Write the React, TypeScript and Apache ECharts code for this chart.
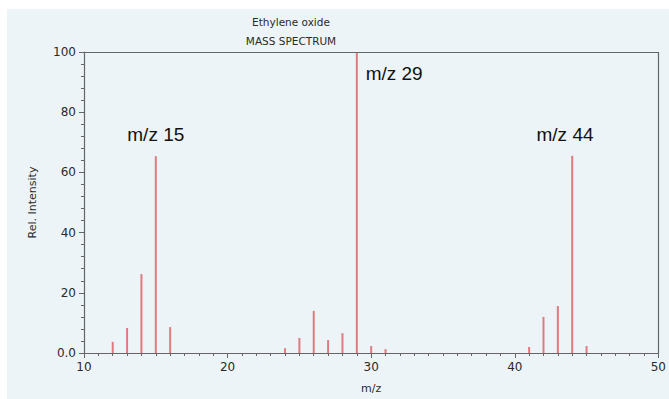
import React, { useEffect, useRef } from "react";
import * as echarts from "echarts";

const mzValues = [12, 13, 14, 15, 16, 24, 25, 26, 27, 28, 29, 30, 31, 41, 42, 43, 44, 45];
const intensities = [3.7, 8.3, 26.2, 65.4, 8.6, 1.6, 5, 14, 4.3, 6.6, 100, 2.3, 1.3, 2, 12, 15.6, 65.5, 2.3];
const annotations = [
  { text: "m/z 15", x: 15, y: 72.5 },
  { text: "m/z 29", x: 31.6, y: 93 },
  { text: "m/z 44", x: 43.5, y: 72.5 },
];
const titleLines = ["Ethylene oxide", "MASS SPECTRUM"];

export default function App() {
  const ref = useRef<HTMLDivElement>(null);
  useEffect(() => {
    if (!ref.current) return;
    const chart = echarts.init(ref.current, null, { renderer: "svg" });
    const axisColor = "#666";
    const textColor = "#2a2a2a";
    chart.setOption({
      animation: false,
      backgroundColor: "#edf4f8",
      textStyle: { fontFamily: "DejaVu Sans" },
      graphic: [
        {
          type: "text",
          x: 284,
          y: 13,
          style: { text: titleLines[0], font: "10.5px DejaVu Sans", fill: textColor, align: "center", verticalAlign: "middle" },
        },
        {
          type: "text",
          x: 284,
          y: 32,
          style: { text: titleLines[1], font: "10.5px DejaVu Sans", fill: textColor, align: "center", verticalAlign: "middle" },
        },
      ],
      grid: { left: 77, top: 43, width: 577, height: 302, containLabel: false },
      xAxis: {
        type: "value",
        min: 10,
        max: 50,
        interval: 10,
        name: "m/z",
        nameLocation: "middle",
        nameGap: 30,
        nameTextStyle: { fontSize: 11, color: textColor, fontFamily: "DejaVu Sans" },
        axisLine: { show: true, onZero: false, lineStyle: { color: axisColor, width: 1.2 } },
        axisTick: { show: true, length: 5, lineStyle: { color: axisColor } },
        minorTick: { show: true, splitNumber: 10, length: 3, lineStyle: { color: axisColor } },
        axisLabel: { fontSize: 12, color: textColor, margin: 8 },
        splitLine: { show: false },
      },
      yAxis: [
        {
          type: "value",
          min: 0,
          max: 100,
          interval: 20,
          name: "Rel. Intensity",
          nameLocation: "middle",
          nameGap: 46,
          nameTextStyle: { fontSize: 11, color: textColor, fontFamily: "DejaVu Sans" },
          axisLine: { show: true, lineStyle: { color: axisColor, width: 1.2 } },
          axisTick: { show: true, length: 5, lineStyle: { color: axisColor } },
          minorTick: { show: true, splitNumber: 5, length: 3, lineStyle: { color: axisColor } },
          axisLabel: {
            fontSize: 12,
            color: textColor,
            margin: 8,
            formatter: (v: number) => (v === 0 ? "0.0" : String(v)),
          },
          splitLine: { show: false },
        },
      ],
      series: [
        {
          type: "bar",
          data: mzValues.map((m, i) => [m, intensities[i]]),
          barWidth: 2,
          itemStyle: { color: "#e07a7e" },
          markPoint: {
            symbol: "circle",
            symbolSize: 0,
            data: annotations.map((a) => ({
              coord: [a.x, a.y],
              label: {
                show: true,
                formatter: a.text,
                position: "inside",
                fontSize: 19,
                color: "#111",
                fontFamily: "Liberation Sans",
              },
            })),
          },
        },
        {
          type: "line",
          data: [],
          markLine: {
            silent: true,
            symbol: "none",
            label: { show: false },
            lineStyle: { color: axisColor, width: 1.2, type: "solid" },
            data: [
              [{ coord: [10, 100] }, { coord: [50, 100] }],
              [{ coord: [50, 0] }, { coord: [50, 100] }],
            ],
          },
        },
      ],
    });
    return () => chart.dispose();
  }, []);
  return (
    <div
      ref={ref}
      style={{ position: "fixed", left: 7, top: 9, width: 662, height: 390 }}
    />
  );
}
